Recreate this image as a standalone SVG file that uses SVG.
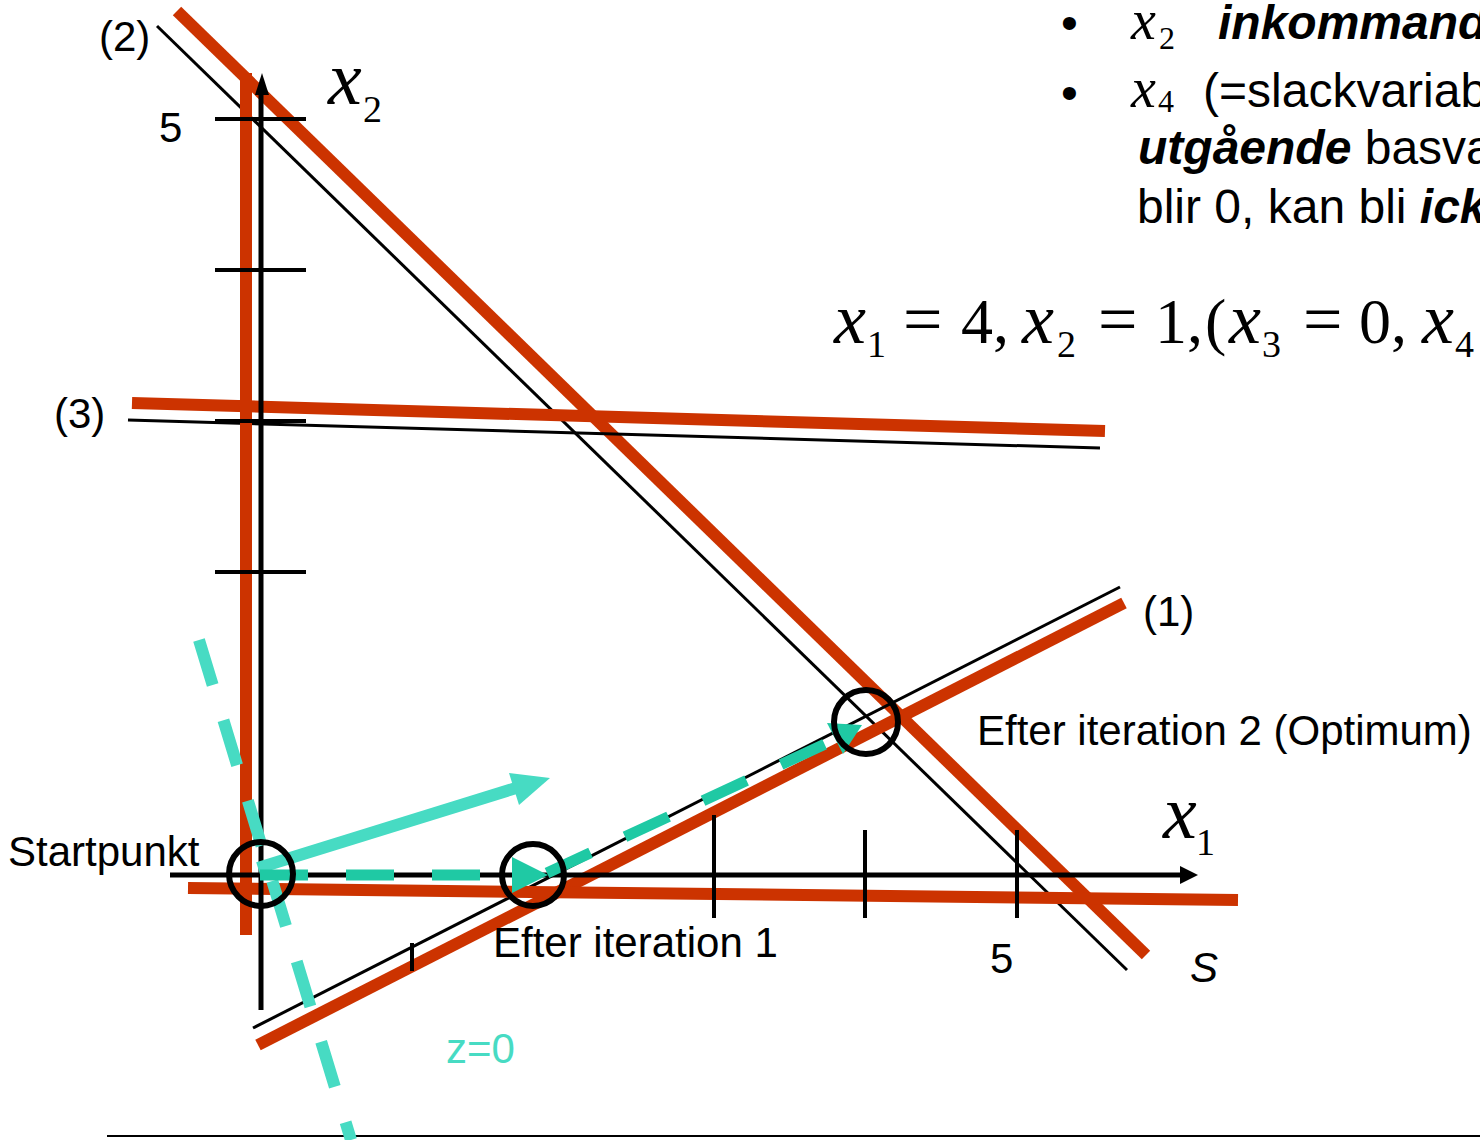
<svg xmlns="http://www.w3.org/2000/svg" width="1480" height="1140" viewBox="0 0 1480 1140">
<style>
.lbl{font-family:"Liberation Sans",Arial,sans-serif;font-size:42px;fill:#000}
.rt{font-family:"Liberation Sans",Arial,sans-serif;font-size:48px;fill:#000}
.bi{font-weight:bold;font-style:italic}
.mx{font-family:"Liberation Serif","Times New Roman",serif;font-style:italic;fill:#000}
.mn{font-family:"Liberation Serif","Times New Roman",serif;fill:#000}
.red{stroke:#cc3300;stroke-width:12;fill:none}
.blk{stroke:#000;stroke-width:3;fill:none}
.tick{stroke:#000;stroke-width:4;fill:none}
.circ{stroke:#000;stroke-width:6;fill:none}
</style>
<rect width="1480" height="1140" fill="#fff"/>

<g id="constraint-lines">
  <line class="blk" x1="157" y1="26" x2="1127" y2="970"/>
  <line class="red" x1="177" y1="11" x2="1146" y2="955"/>
  <line class="blk" x1="128" y1="420" x2="1100" y2="448"/>
  <line class="red" x1="132" y1="403" x2="1105" y2="431"/>
  <line class="blk" x1="253" y1="1028" x2="1120" y2="587"/>
  <line class="red" x1="258" y1="1045" x2="1124" y2="603"/>
  <line class="red" x1="188" y1="888" x2="1238" y2="900"/>
  <line class="red" x1="246" y1="73" x2="246" y2="935"/>
</g>

<g id="axes">
  <line stroke="#000" stroke-width="5" x1="261" y1="1010" x2="261" y2="90"/>
  <polygon points="262,73 255,95 269,95" fill="#000"/>
  <line stroke="#000" stroke-width="5" x1="170" y1="875" x2="1184" y2="875"/>
  <polygon points="1198,875 1180,866 1180,884" fill="#000"/>
  <line class="tick" x1="215" y1="119" x2="306" y2="119"/>
  <line class="tick" x1="215" y1="270" x2="306" y2="270"/>
  <line class="tick" x1="215" y1="421" x2="306" y2="421"/>
  <line class="tick" x1="215" y1="572" x2="306" y2="572"/>
  <line class="tick" x1="714" y1="815" x2="714" y2="918"/>
  <line class="tick" x1="865" y1="830" x2="865" y2="918"/>
  <line class="tick" x1="1017" y1="830" x2="1017" y2="918"/>
  <line class="tick" x1="412" y1="943" x2="412" y2="971"/>
  <line stroke="#000" stroke-width="2" x1="107" y1="1136" x2="1480" y2="1136"/>
</g>

<g id="objective">
  <line stroke="#47dbc3" stroke-width="12" stroke-dasharray="47 37" x1="199" y1="640" x2="351" y2="1140"/>
  <line stroke="#47dbc3" stroke-width="12" x1="258" y1="868" x2="516" y2="788"/>
  <polygon points="550,778 509,773 519,805" fill="#47dbc3"/>
</g>

<g id="simplex-path">
  <line stroke="#1fc9a4" stroke-width="11" stroke-dasharray="48 38" x1="260" y1="875" x2="512" y2="875"/>
  <polygon points="548,875 512,857 512,893" fill="#1fc9a4"/>
  <line stroke="#1fc9a4" stroke-width="11" stroke-dasharray="48 38" x1="547" y1="873" x2="836" y2="739"/>
  <polygon points="862,725 827,723 843,754" fill="#1fc9a4"/>
</g>

<g id="points">
  <circle id="startpunkt" class="circ" cx="261" cy="874" r="32"/>
  <circle id="iter1" class="circ" cx="533" cy="875" r="31"/>
  <circle id="iter2" class="circ" cx="866" cy="722" r="32"/>
</g>

<g id="labels">
  <text class="lbl" x="99" y="51">(2)</text>
  <text class="lbl" x="159" y="142">5</text>
  <text class="lbl" x="54" y="428">(3)</text>
  <text class="lbl" x="1143" y="626">(1)</text>
  <text class="lbl" x="977" y="745">Efter iteration 2 (Optimum)</text>
  <text class="lbl" x="8" y="866">Startpunkt</text>
  <text class="lbl" x="493" y="957">Efter iteration 1</text>
  <text class="lbl" x="990" y="973">5</text>
  <text class="lbl" x="1190" y="982" font-style="italic" font-size="44">S</text>
  <text class="lbl" x="446" y="1063" style="fill:#47dbc3">z=0</text>
  <text class="mx" x="328" y="104" font-size="76">x</text>
  <text class="mn" x="363" y="122" font-size="38">2</text>
  <text class="mx" x="1163" y="838" font-size="76">x</text>
  <text class="mn" x="1196" y="855" font-size="38">1</text>
</g>

<g id="bullets">
  <text class="rt" x="1061" y="39">•</text>
  <text class="mx" x="1131" y="39" font-size="56">x</text>
  <text class="mn" x="1159" y="49" font-size="32">2</text>
  <text class="rt bi" x="1218" y="39">inkommand</text>
  <text class="rt" x="1061" y="109">•</text>
  <text class="mx" x="1131" y="107" font-size="56">x</text>
  <text class="mn" x="1158" y="112" font-size="32">4</text>
  <text class="rt" x="1203" y="107">(=slackvariab</text>
  <text class="rt" x="1138" y="164"><tspan class="bi">utgående</tspan> basva</text>
  <text class="rt" x="1137" y="223">blir 0, kan bli <tspan class="bi">ick</tspan></text>
</g>

<g id="formula" font-size="64">
  <text class="mx" x="834" y="343" font-size="72">x</text>
  <text class="mn" x="867" y="357" font-size="38">1</text>
  <text class="mn" x="903" y="343" font-size="70">=</text>
  <text class="mn" x="961" y="343">4,</text>
  <text class="mx" x="1022" y="343" font-size="72">x</text>
  <text class="mn" x="1057" y="357" font-size="38">2</text>
  <text class="mn" x="1098" y="343" font-size="70">=</text>
  <text class="mn" x="1155" y="343">1,</text>
  <text class="mn" x="1205" y="343">(</text>
  <text class="mx" x="1229" y="343" font-size="72">x</text>
  <text class="mn" x="1262" y="357" font-size="38">3</text>
  <text class="mn" x="1303" y="343" font-size="70">=</text>
  <text class="mn" x="1359" y="343">0,</text>
  <text class="mx" x="1422" y="343" font-size="72">x</text>
  <text class="mn" x="1455" y="357" font-size="38">4</text>
</g>
</svg>
